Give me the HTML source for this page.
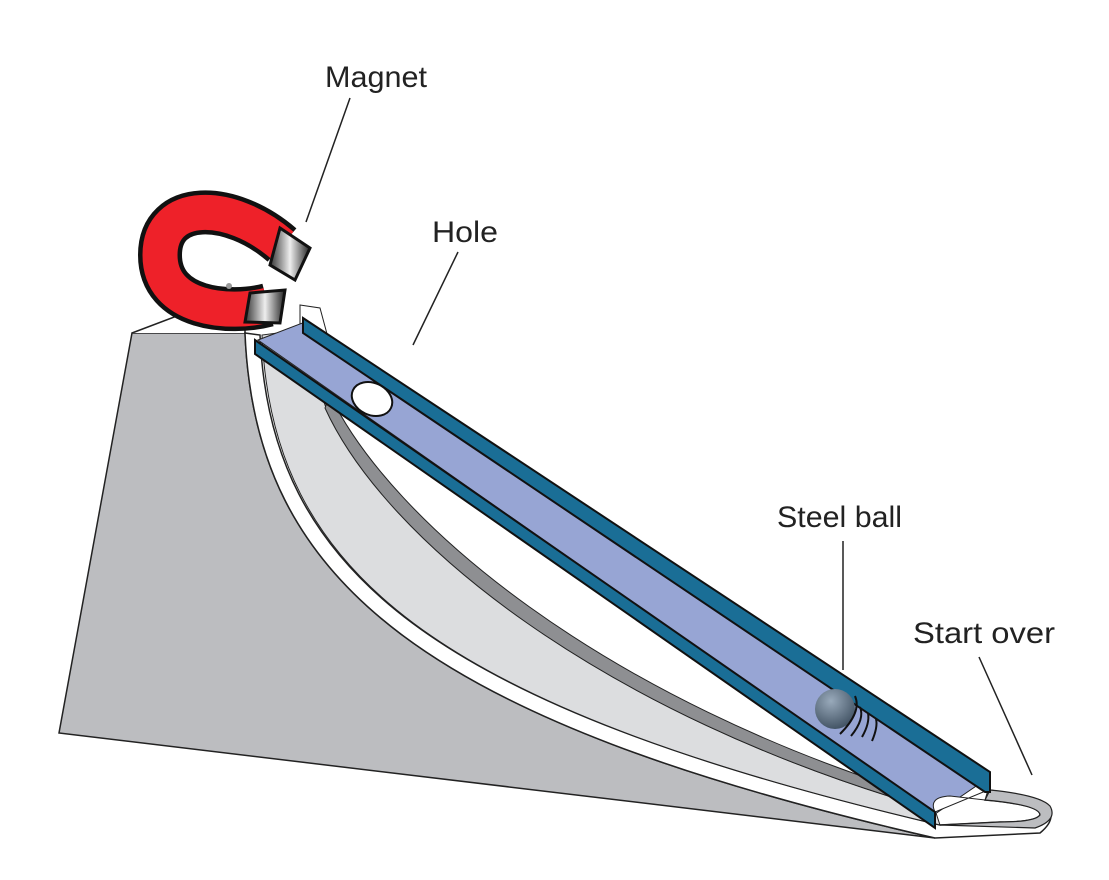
<!DOCTYPE html>
<html><head><style>body{margin:0;background:#fff}svg{display:block}text{font-family:"Liberation Sans",sans-serif;font-size:30px;fill:#222}</style></head><body>
<svg width="1109" height="880" viewBox="0 0 1109 880" xmlns="http://www.w3.org/2000/svg">
<defs>
<linearGradient id="st" x1="0" x2="1"><stop offset="0" stop-color="#333"/><stop offset=".5" stop-color="#eee"/><stop offset="1" stop-color="#222"/></linearGradient>
<radialGradient id="bl" cx=".4" cy=".3" r=".7"><stop offset="0" stop-color="#9ab"/><stop offset="1" stop-color="#456"/></radialGradient>
</defs>
<!-- pedestal -->
<path d="M132 333 L245 333 C255 580, 420 720, 935 838 L59 733 Z" fill="#bcbdc0" stroke="#222" stroke-width="1.5"/>
<path d="M132 333 L190 311 L245 311 L245 333" fill="#fff" stroke="#222" stroke-width="1.5"/>
<!-- white strip -->
<path d="M245 333 C255 580, 420 720, 935 838 L1040 833 Q1062 815 1040 800 L990 790 L985 800 Q1040 805 1040 815 Q1035 822 1000 822 L940 825 C430 705, 270 570, 260 335 Z" fill="#fff" stroke="#222" stroke-width="1.5"/>
<!-- light gray surface -->
<path d="M262 335 C272 570, 430 705, 940 825 L935 810 C600 715, 385 540, 325 405 L300 330 Z" fill="#dcdddf" stroke="#222" stroke-width="1"/>
<!-- dark band -->
<path d="M330 395 C390 520, 600 700, 935 800 L935 810 C600 715, 385 540, 325 408 Z" fill="#8e8f92" stroke="#222" stroke-width="1"/>
<path d="M300 305 L320 308 L330 345 L300 330 Z" fill="#fff" stroke="#222" stroke-width="1"/>
<!-- loop end gray -->
<path d="M940 825 L1000 822 Q1035 822 1040 815 Q1040 805 985 800 L990 790 Q1040 795 1050 806 Q1058 820 1035 828 Z" fill="#bcbdc0" stroke="#222" stroke-width="1.2"/>
<!-- track face -->
<path d="M258 340 L305 322 L988 778 L935 814 Z" fill="#97a5d4" stroke="#222" stroke-width="1"/>
<!-- notch -->
<path d="M935 812 Q928 797 950 796 L985 800 L988 790 Z" fill="#fff" stroke="#222" stroke-width="1"/>
<!-- lower rail -->
<path d="M255 340 L935 812 L935 828 L255 354 Z" fill="#1a6e96" stroke="#111" stroke-width="2"/>
<!-- upper rail -->
<path d="M303 318 L990 772 L990 792 L985 792 L303 333 Z" fill="#1a6e96" stroke="#111" stroke-width="2"/>
<!-- hole -->
<ellipse cx="372" cy="399" rx="21" ry="16" transform="rotate(25 372 399)" fill="#fff" stroke="#111" stroke-width="2"/>
<!-- ball -->
<circle cx="835" cy="709" r="20" fill="url(#bl)"/>
<g fill="none" stroke="#111" stroke-width="2"><path d="M855 696 Q862 712 840 734"/><path d="M860 707 Q865 719 851 736"/><path d="M868 713 Q870 723 862 737"/><path d="M876 719 Q878 727 872 741"/></g>
<!-- magnet -->
<path d="M282 245 C 230 200, 160 200, 160 255 C 160 310, 230 315, 268 305" fill="none" stroke="#111" stroke-width="44"/>
<path d="M282 245 C 230 200, 160 200, 160 255 C 160 310, 230 315, 268 305" fill="none" stroke="#ee2129" stroke-width="35"/>
<path d="M280 228 L310 248 L295 280 L270 265 Z" fill="url(#st)" stroke="#111" stroke-width="3"/>
<path d="M250 293 L285 290 L280 323 L245 322 Z" fill="url(#st)" stroke="#111" stroke-width="3"/>
<circle cx="229" cy="286" r="3" fill="#999"/>
<!-- labels -->
<text x="325" y="87" textLength="102" lengthAdjust="spacingAndGlyphs">Magnet</text>
<line x1="306" y1="222" x2="350" y2="98" stroke="#222" stroke-width="1.5"/>
<text x="432" y="242" textLength="66" lengthAdjust="spacingAndGlyphs">Hole</text>
<line x1="413" y1="345" x2="458" y2="252" stroke="#222" stroke-width="1.5"/>
<text x="777" y="527" textLength="125" lengthAdjust="spacingAndGlyphs">Steel ball</text>
<line x1="843" y1="541" x2="843" y2="670" stroke="#222" stroke-width="1.5"/>
<text x="913" y="643" textLength="142" lengthAdjust="spacingAndGlyphs">Start over</text>
<line x1="979" y1="657" x2="1032" y2="775" stroke="#222" stroke-width="1.5"/>
</svg>
</body></html>
